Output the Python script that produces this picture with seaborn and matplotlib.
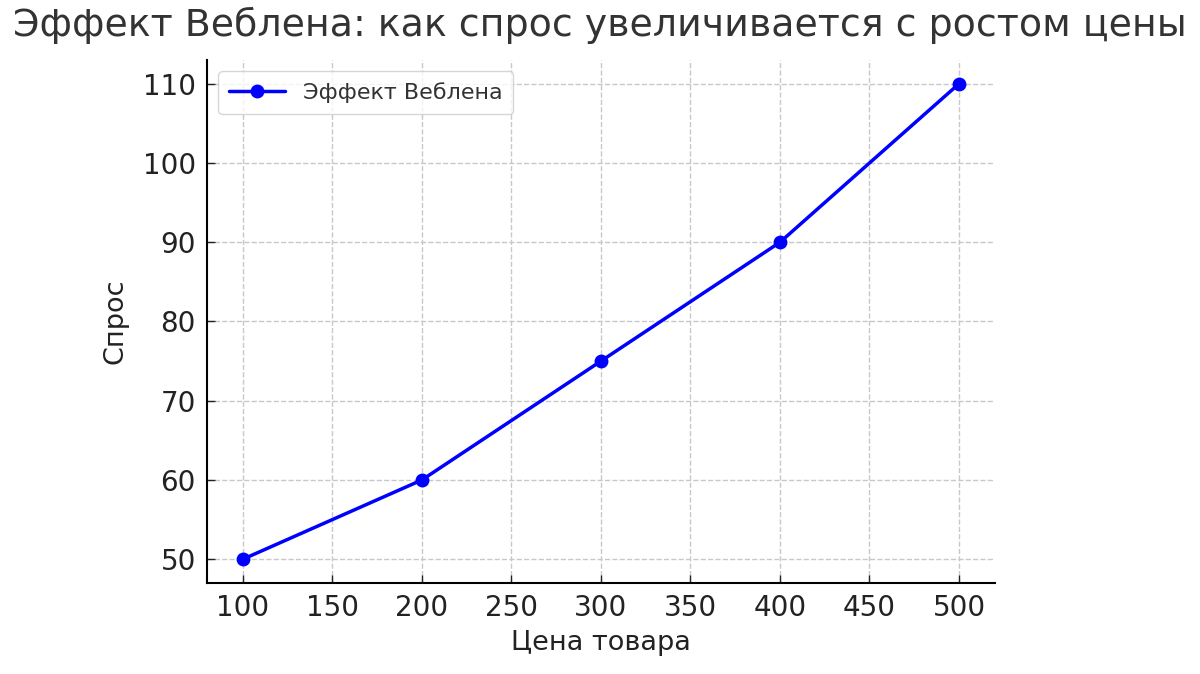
import matplotlib
matplotlib.use("Agg")
import matplotlib.pyplot as plt
import seaborn as sns
import pandas as pd

# Data
prices = [100, 200, 300, 400, 500]
demand = [50, 60, 75, 90, 110]
series_name = "Эффект Веблена"

sns.set_theme(style="ticks", rc={'axes.facecolor': 'white',
                                 'figure.facecolor': 'white'})
plt.rcParams['font.family'] = ['DejaVu Sans']

data = pd.DataFrame({"Цена товара": prices, "Спрос": demand})

fig = plt.figure(figsize=(12, 6.74), dpi=100)
ax = fig.add_axes([0.1725, 0.135, 0.829 - 0.1725, 0.911 - 0.135])

sns.lineplot(data=data, x="Цена товара", y="Спрос", ax=ax,
             color="#0000ff", linewidth=2.5, marker="o", markersize=10,
             markeredgewidth=0, label=series_name)

ax.grid(True, linestyle="--", color="#c8c8c8", linewidth=1)
ax.set_axisbelow(True)
for side in ["top", "right"]:
    ax.spines[side].set_visible(False)
for side in ["left", "bottom"]:
    ax.spines[side].set_linewidth(1.5)
    ax.spines[side].set_color("black")

ax.tick_params(direction="in", labelsize=20, length=6, width=1,
               colors="#222222", labelcolor="#222222", pad=8)
ax.set_xticks([100, 150, 200, 250, 300, 350, 400, 450, 500])
ax.set_yticks([50, 60, 70, 80, 90, 100, 110])

ax.set_xlabel("Цена товара", fontsize=19.5, color="#222222", labelpad=6)
ax.set_ylabel("Спрос", fontsize=19.5, color="#222222", labelpad=10)
fig.suptitle("Эффект Веблена: как спрос увеличивается с ростом цены",
             fontsize=27.3, color="#333333", x=0.5, y=0.99)

leg = ax.legend(loc="upper left", fontsize=16, frameon=True, fancybox=True,
                borderpad=0.5, handlelength=2.5)
leg.get_frame().set_edgecolor("#cccccc")
for t in leg.get_texts():
    t.set_color("#333333")

fig.savefig("out.png", dpi=100)
